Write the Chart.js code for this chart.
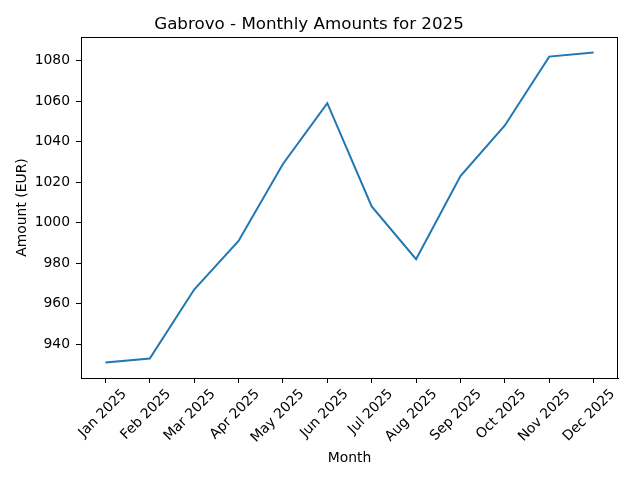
<!DOCTYPE html>
<html>
<head>
<meta charset="utf-8">
<script src="https://cdn.jsdelivr.net/npm/chart.js@4"></script>
<style>
  body { margin: 0; background: #fff; }
  canvas { display: block; }
</style>
</head>
<body>
<canvas id="chart" width="640" height="480"></canvas>
<script>
const months = ["Jan 2025", "Feb 2025", "Mar 2025", "Apr 2025", "May 2025", "Jun 2025",
  "Jul 2025", "Aug 2025", "Sep 2025", "Oct 2025", "Nov 2025", "Dec 2025"];
const amounts = [931, 933, 967, 991, 1029, 1059, 1008, 982, 1023, 1048, 1082, 1084];
const yTicks = [940, 960, 980, 1000, 1020, 1040, 1060, 1080];

Chart.defaults.font.family = "'DejaVu Sans', sans-serif";
Chart.defaults.color = "#000";

// matplotlib style full frame round the plot area
const frame = {
  id: "frame",
  afterDraw(chart) {
    const a = chart.chartArea;
    const ctx = chart.ctx;
    ctx.save();
    ctx.strokeStyle = "#000";
    ctx.lineWidth = 1;
    ctx.strokeRect(Math.round(a.left) + 0.5, Math.round(a.top) + 0.5,
      Math.round(a.right - a.left) - 1, Math.round(a.bottom - a.top));
    ctx.restore();
  }
};

const lo = Math.min(...amounts), hi = Math.max(...amounts);
const pad = (hi - lo) * 0.05;

new Chart(document.getElementById("chart").getContext("2d"), {
  type: "line",
  data: {
    datasets: [{
      data: amounts.map((v, i) => ({ x: i, y: v })),
      borderColor: "#1f77b4",
      borderWidth: 2,
      pointRadius: 0,
      tension: 0,
      fill: false
    }]
  },
  options: {
    responsive: false,
    animation: false,
    layout: { padding: { right: 22, left: 0, bottom: 0, top: 0 } },
    plugins: {
      legend: { display: false },
      tooltip: { enabled: false },
      title: {
        display: true,
        text: "Gabrovo - Monthly Amounts for 2025",
        font: { size: 16.7, weight: "normal" },
        color: "#000",
        padding: { top: 15, bottom: 2 }
      }
    },
    scales: {
      x: {
        type: "linear",
        min: -0.55,
        max: months.length - 1 + 0.55,
        afterFit(scale) { scale.height = 102; },
        afterBuildTicks(scale) {
          scale.ticks = months.map((m, i) => ({ value: i }));
        },
        ticks: {
          autoSkip: false,
          maxRotation: 45,
          minRotation: 45,
          labelOffset: 19,
          padding: 3,
          font: { size: 13.9 },
          color: "#000",
          callback: (v) => months[v]
        },
        grid: { drawOnChartArea: false, tickLength: 5, color: "#000" },
        border: { color: "#000" },
        title: {
          display: true,
          text: "Month",
          font: { size: 13.9 },
          color: "#000",
          padding: { top: 0, bottom: 13 }
        }
      },
      y: {
        min: lo - pad,
        max: hi + pad,
        afterFit(scale) { scale.width = 81; },
        afterBuildTicks(scale) {
          scale.ticks = yTicks.map((v) => ({ value: v }));
        },
        ticks: {
          padding: 6,
          font: { size: 13.9 },
          color: "#000",
          callback: (v) => String(v)
        },
        grid: { drawOnChartArea: false, tickLength: 5, color: "#000" },
        border: { color: "#000" },
        title: {
          display: true,
          text: "Amount (EUR)",
          font: { size: 13.9 },
          color: "#000",
          padding: { top: 14, bottom: 0 }
        }
      }
    }
  },
  plugins: [frame]
});
</script>
</body>
</html>
